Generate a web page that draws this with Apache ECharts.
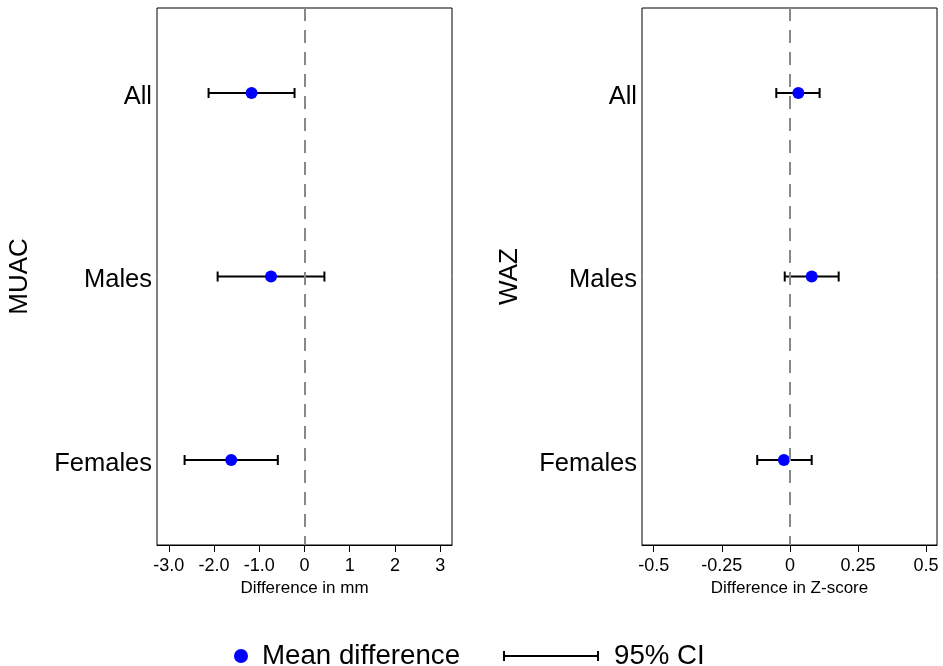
<!DOCTYPE html>
<html>
<head>
<meta charset="utf-8">
<script src="https://cdn.jsdelivr.net/npm/echarts@6/dist/echarts.min.js"></script>
<style>
  html, body { margin: 0; padding: 0; background: #fff; }
  #chart { width: 943px; height: 666px; }
</style>
</head>
<body>
<div id="chart"></div>
<script>
// Groups shown on each panel (top to bottom)
const groups = ['All', 'Males', 'Females'];

// MUAC: mean difference (mm) with 95% CI
const muacMean = [-1.17, -0.74, -1.62];
const muacLow  = [-2.12, -1.92, -2.65];
const muacHigh = [-0.22,  0.44, -0.59];

// WAZ: mean difference (Z-score) with 95% CI
const wazMean = [0.031, 0.080, -0.022];
const wazLow  = [-0.050, -0.019, -0.120];
const wazHigh = [0.109, 0.179, 0.080];

// Axis ticks and their labels
const muacTicks = [-3, -2, -1, 0, 1, 2, 3];
const muacTickLabels = ['-3.0', '-2.0', '-1.0', '0', '1', '2', '3'];
const wazTicks = [-0.5, -0.25, 0, 0.25, 0.5];
const wazTickLabels = ['-0.5', '-0.25', '0', '0.25', '0.5'];

const FONT = '"Liberation Sans", Arial, Helvetica, sans-serif';
const chart = echarts.init(document.getElementById('chart'), null, { renderer: 'canvas' });

function xAxisFor(gridIndex, lo, hi, ticks, labels, name) {
  return {
    type: 'value', gridIndex, min: lo, max: hi,
    name, nameLocation: 'middle', nameGap: 32,
    nameTextStyle: { fontFamily: FONT, fontSize: 17, color: '#000' },
    axisLine: { show: true, lineStyle: { color: '#000', width: 1 } },
    axisTick: { show: true, customValues: ticks, length: 7, lineStyle: { color: '#000', width: 1 } },
    axisLabel: {
      customValues: ticks, margin: 12, fontFamily: FONT, fontSize: 18, color: '#000',
      formatter: v => { const i = ticks.findIndex(t => Math.abs(t - v) < 1e-9); return i >= 0 ? labels[i] : ''; }
    },
    splitLine: { show: false }
  };
}

function yAxisFor(gridIndex, name, gap) {
  return {
    type: 'value', gridIndex, min: 0.537, max: 3.463, inverse: true,
    name, nameLocation: 'middle', nameGap: gap, nameRotate: 90,
    nameTextStyle: { fontFamily: FONT, fontSize: 26, color: '#000' },
    axisLine: { show: false }, axisTick: { show: false }, splitLine: { show: false },
    axisLabel: {
      // group names sit a little below the row centre
      customValues: [1.02, 2.02, 3.02], margin: 5, fontFamily: FONT, fontSize: 25.5, color: '#000',
      formatter: v => groups[Math.round(v) - 1] || ''
    }
  };
}

function meanSeries(idx, means) {
  return {
    name: 'Mean difference', type: 'scatter', xAxisIndex: idx, yAxisIndex: idx,
    symbol: 'circle', symbolSize: 12, itemStyle: { color: '#0000ff', opacity: 1 }, z: 4,
    data: means.map((m, i) => [m, i + 1]),
    markLine: {
      silent: true, symbol: 'none', label: { show: false },
      lineStyle: { color: '#888', type: [13, 9], width: 2 },
      data: [{ xAxis: 0 }]
    }
  };
}

function ciSeries(idx, low, high) {
  return {
    name: '95% CI', type: 'custom', xAxisIndex: idx, yAxisIndex: idx, z: 3,
    itemStyle: { color: '#000' },
    data: low.map((l, i) => [l, high[i], i + 1]),
    renderItem: (params, api) => {
      const a = api.coord([api.value(0), api.value(2)]);
      const b = api.coord([api.value(1), api.value(2)]);
      const cap = 5;
      const style = { stroke: '#000', lineWidth: 2, fill: null };
      return {
        type: 'group',
        children: [
          { type: 'line', shape: { x1: a[0], y1: a[1], x2: b[0], y2: b[1] }, style },
          { type: 'line', shape: { x1: a[0], y1: a[1] - cap, x2: a[0], y2: a[1] + cap }, style },
          { type: 'line', shape: { x1: b[0], y1: b[1] - cap, x2: b[0], y2: b[1] + cap }, style }
        ]
      };
    }
  };
}

// Horizontal interval glyph: a bar with an end cap on each side
const ciIcon = 'path://M0,0h2v4h92v-4h2v10h-2v-4h-92v4h-2z';

chart.setOption({
  backgroundColor: '#fff',
  animation: false,
  grid: [
    { left: 157, right: 491, top: 8, bottom: 121, show: true, borderColor: '#000', borderWidth: 1, backgroundColor: 'transparent', outerBoundsMode: 'none' },
    { left: 642, right: 6, top: 8, bottom: 121, show: true, borderColor: '#000', borderWidth: 1, backgroundColor: 'transparent', outerBoundsMode: 'none' }
  ],
  xAxis: [
    xAxisFor(0, -3.26, 3.26, muacTicks, muacTickLabels, 'Difference in mm'),
    xAxisFor(1, -0.543, 0.54, wazTicks, wazTickLabels, 'Difference in Z-score')
  ],
  yAxis: [yAxisFor(0, 'MUAC', 124), yAxisFor(1, 'WAZ', 119)],
  legend: [
    {
      left: 229, top: 637, itemWidth: 28, itemHeight: 14, selectedMode: false,
      data: [{ name: 'Mean difference', icon: 'circle', itemStyle: { color: '#0000ff' } }],
      textStyle: { fontFamily: FONT, fontSize: 27.7, color: '#000', lineHeight: 28, padding: [0, 0, 0, 2] }
    },
    {
      left: 498, top: 637, itemWidth: 96, itemHeight: 10, selectedMode: false,
      data: [{ name: '95% CI', icon: ciIcon, itemStyle: { color: '#000' } }],
      textStyle: { fontFamily: FONT, fontSize: 27.7, color: '#000', lineHeight: 28, padding: [0, 0, 0, 10] }
    }
  ],
  series: [
    ciSeries(0, muacLow, muacHigh),
    meanSeries(0, muacMean),
    ciSeries(1, wazLow, wazHigh),
    meanSeries(1, wazMean)
  ]
});
</script>
</body>
</html>
